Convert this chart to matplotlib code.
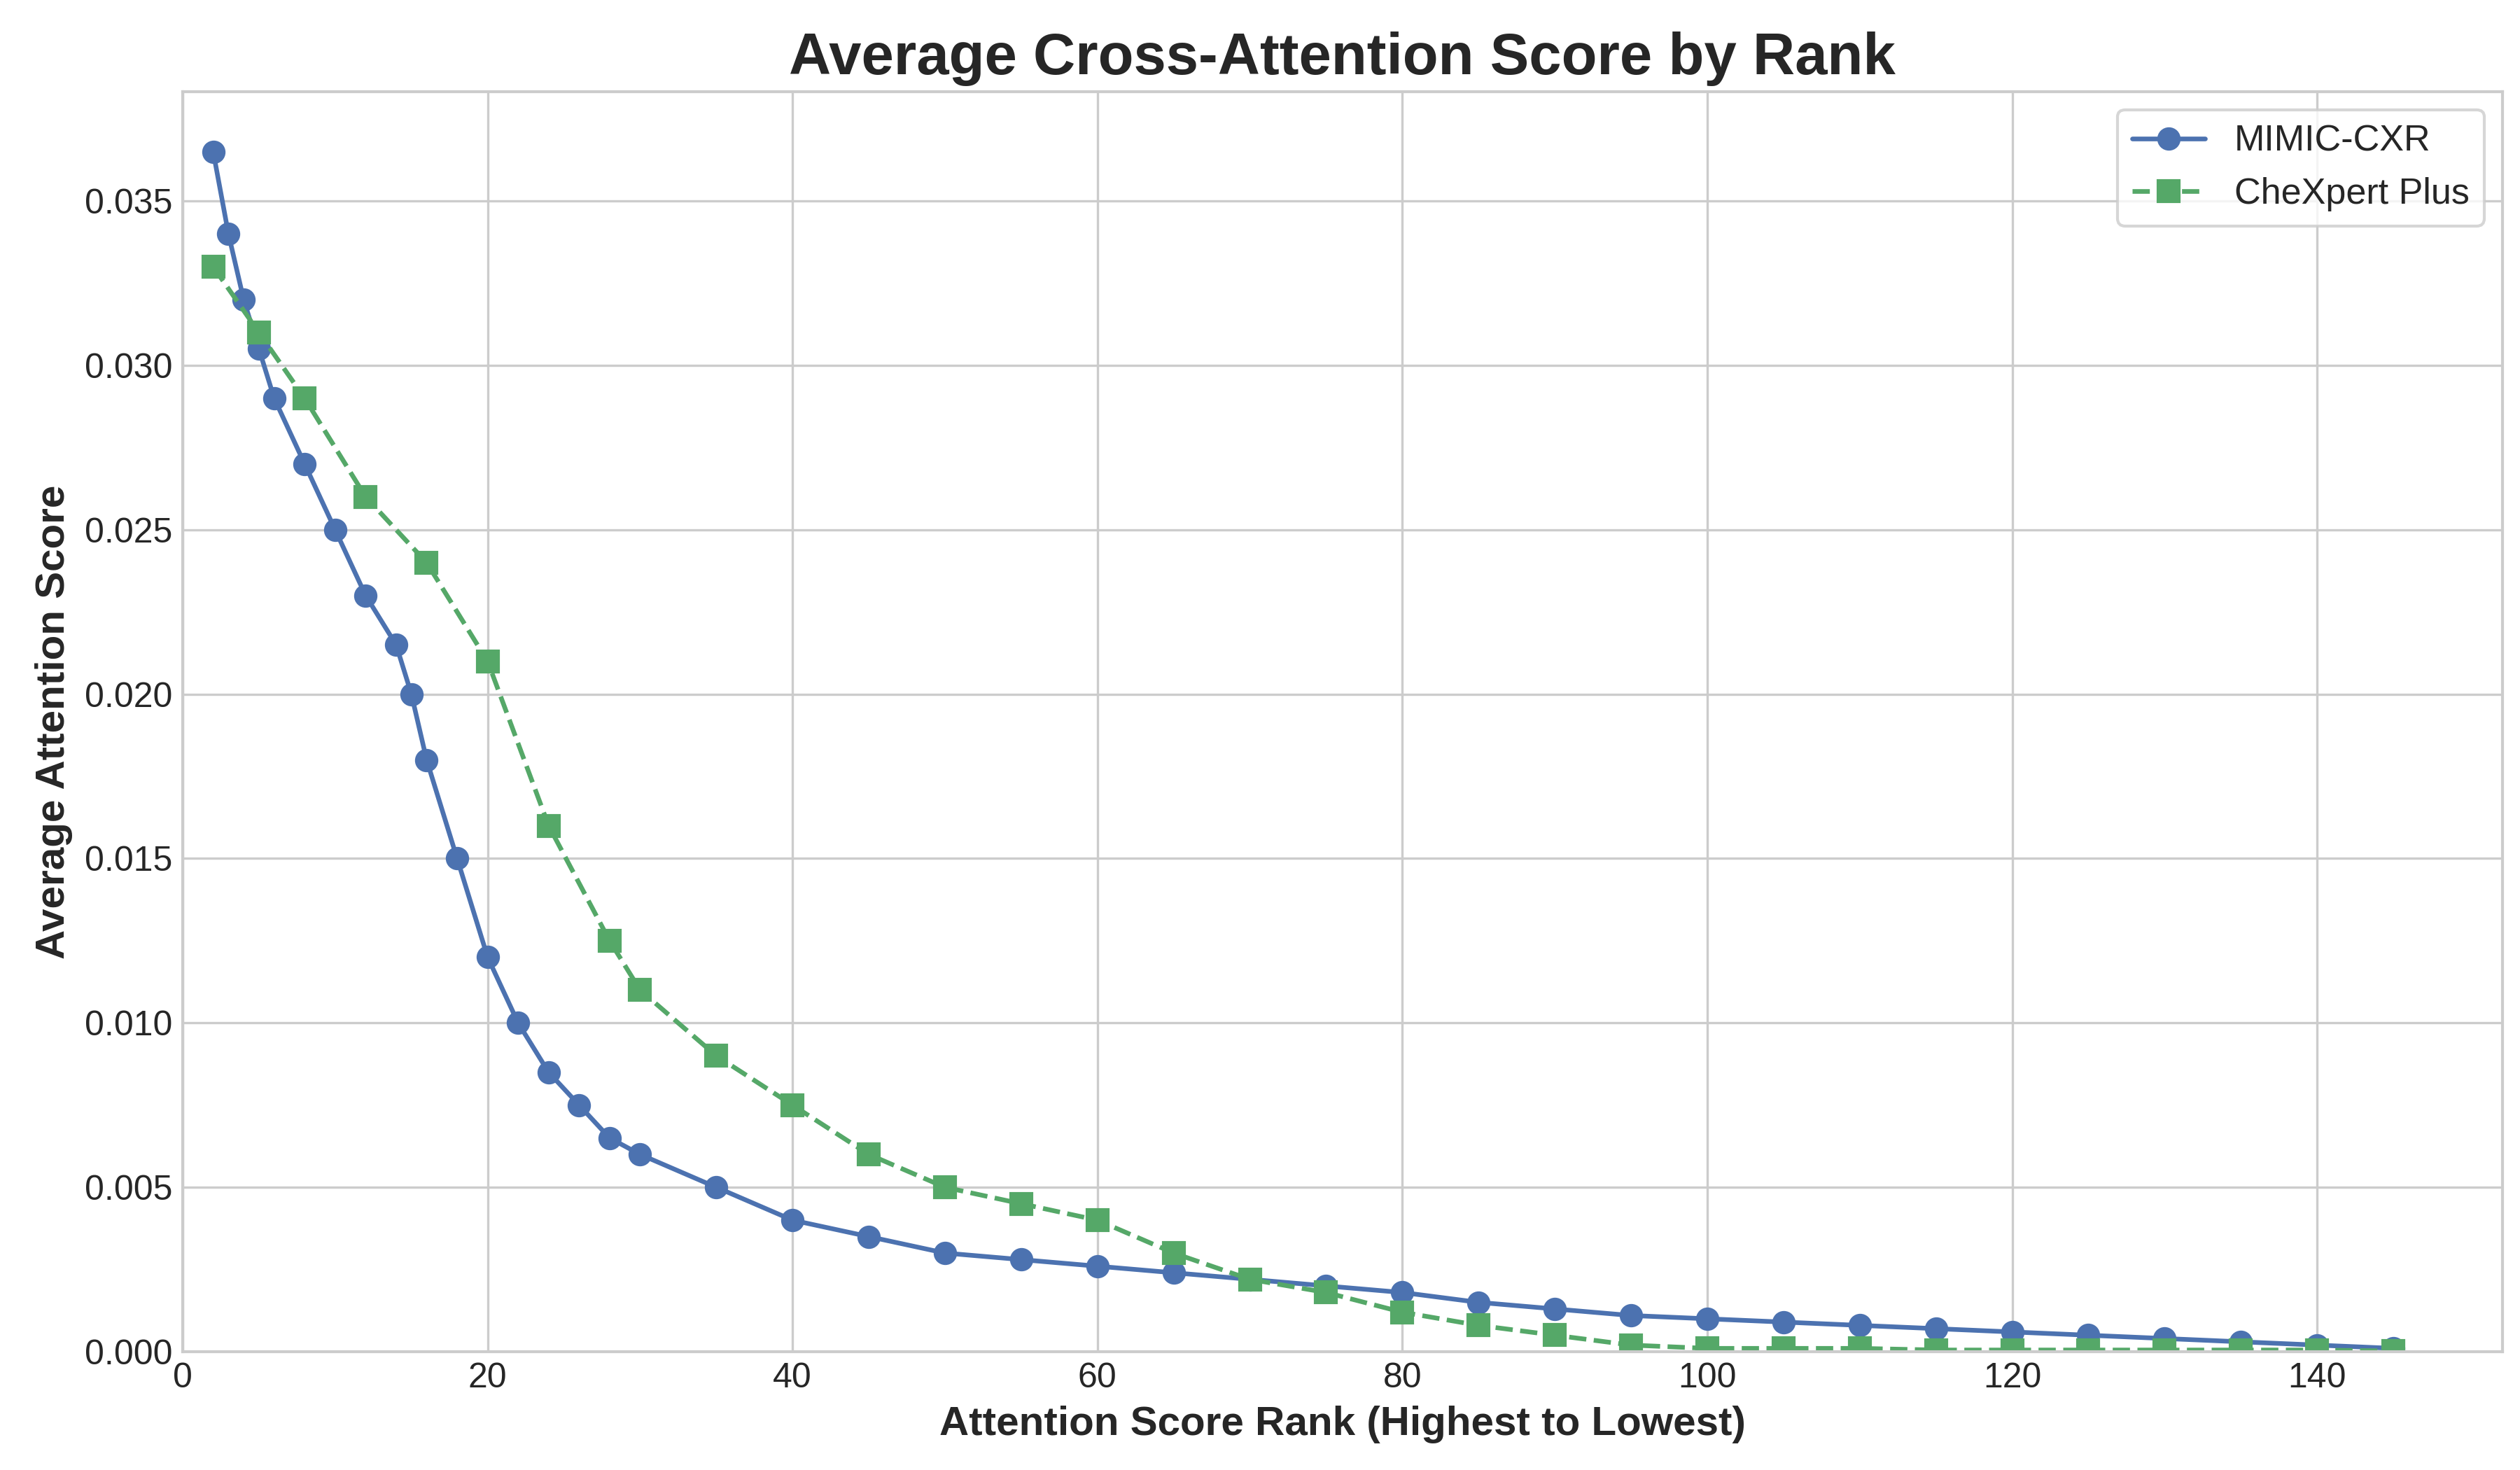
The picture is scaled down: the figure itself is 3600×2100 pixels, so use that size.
"""Average cross-attention score by rank, MIMIC-CXR vs CheXpert Plus."""

import matplotlib
matplotlib.use("Agg")
import matplotlib.pyplot as plt

# ranks and scores
mimic_rank = [2, 3, 4, 5, 6, 8, 10, 12, 14, 15, 16, 18, 20, 22, 24, 26, 28, 30,
              35, 40, 45, 50, 55, 60, 65, 70, 75, 80, 85, 90, 95, 100, 105, 110,
              115, 120, 125, 130, 135, 140, 145]
mimic_score = [0.0365, 0.034, 0.032, 0.0305, 0.029, 0.027, 0.025, 0.023, 0.0215,
               0.020, 0.018, 0.015, 0.012, 0.010, 0.0085, 0.0075, 0.0065, 0.006,
               0.005, 0.004, 0.0035, 0.003, 0.0028, 0.0026, 0.0024, 0.0022, 0.002,
               0.0018, 0.0015, 0.0013, 0.0011, 0.001, 0.0009, 0.0008, 0.0007,
               0.0006, 0.0005, 0.0004, 0.0003, 0.0002, 0.0001]

chexpert_rank = [2, 5, 8, 12, 16, 20, 24, 28, 30, 35, 40, 45, 50, 55, 60, 65, 70,
                 75, 80, 85, 90, 95, 100, 105, 110, 115, 120, 125, 130, 135, 140, 145]
chexpert_score = [0.033, 0.031, 0.029, 0.026, 0.024, 0.021, 0.016, 0.0125, 0.011,
                  0.009, 0.0075, 0.006, 0.005, 0.0045, 0.004, 0.003, 0.0022, 0.0018,
                  0.0012, 0.0008, 0.0005, 0.0002, 0.0001, 0.0001, 0.0001, 0.00005,
                  0.00005, 0.00005, 0.00005, 0.00005, 0.00005, 0.00002]

plt.style.use("seaborn-v0_8-whitegrid")
plt.rcParams["font.family"] = ["Liberation Sans", "DejaVu Sans"]

fig, ax = plt.subplots(figsize=(12, 7))
ax.plot(mimic_rank, mimic_score, marker="o", linestyle="-", color="#4c72b0",
        linewidth=1.6, markersize=7, label="MIMIC-CXR")
ax.plot(chexpert_rank, chexpert_score, marker="s", linestyle="--", color="#55a868",
        linewidth=1.6, markersize=7, label="CheXpert Plus")

ax.set_title("Average Cross-Attention Score by Rank", fontsize=20, fontweight="bold")
ax.set_xlabel("Attention Score Rank (Highest to Lowest)", fontsize=14, fontweight="bold")
ax.set_ylabel("Average Attention Score", fontsize=14, fontweight="bold")
ax.tick_params(labelsize=12)
ax.set_xlim(left=0)
ax.set_ylim(bottom=0)
for s in ax.spines.values():
    s.set_visible(True)
    s.set_color("#cccccc")

ax.legend(fontsize=12.5, frameon=True, loc="upper right")

# match the reference margins instead of tight_layout
fig.subplots_adjust(left=0.0725, right=0.993, top=0.9376, bottom=0.0805)
plt.savefig("out.png", dpi=300)
